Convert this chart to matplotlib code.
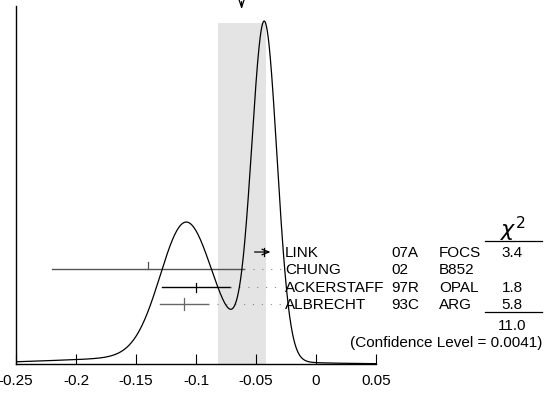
import numpy as np
import matplotlib
matplotlib.use('Agg')
import matplotlib.pyplot as plt

plt.rcParams['font.family'] = ['Liberation Sans', 'DejaVu Sans']

# measurements shown in the ideogram
names = ['LINK', 'CHUNG', 'ACKERSTAFF', 'ALBRECHT']
years = ['07A', '02', '97R', '93C']
experiments = ['FOCS', 'B852', 'OPAL', 'ARG']
values = [-0.043, -0.140, -0.100, -0.110]
errors = [0.0105, 0.080, 0.028, 0.020]
chi2 = ['3.4', '', '1.8', '5.8']
chi2_total = '11.0'
conf_level = '0.0041'

# weighted average (scaled error)
avg_value = -0.062
avg_error = 0.020

xticks = [-0.25, -0.2, -0.15, -0.1, -0.05, 0, 0.05]
xticklabels = ['-0.25', '-0.2', '-0.15', '-0.1', '-0.05', '0', '0.05']

# style per row
bar_colors = ['black', '#555555', 'black', '#666666']
tick_up = [0.012, 0.020, 0.012, 0.016]
tick_down = [0.012, 0.0, 0.015, 0.016]

fig = plt.figure(figsize=(5.5, 3.95), dpi=100)
ax = fig.add_axes([16 / 550, 31 / 395, 360 / 550, 358 / 395])

# ideogram: sum of gaussians, area proportional to 1/sigma
x = np.linspace(xticks[0], xticks[-1], 1500)
ideo = np.zeros_like(x)
for v, e in zip(values, errors):
    ideo += np.exp(-0.5 * ((x - v) / e) ** 2) / e ** 2
ymax = ideo.max() / 0.958

ax.axvspan(avg_value - avg_error, avg_value + avg_error, ymin=0, ymax=0.9525,
           color='#e4e4e4', lw=0, zorder=0)
ax.plot(x, ideo, color='black', lw=0.9, zorder=3)

ax.set_xlim(xticks[0], xticks[-1])
ax.set_ylim(0, ymax)

for s in ['top', 'right']:
    ax.spines[s].set_visible(False)
ax.spines['left'].set_linewidth(1.0)
ax.spines['bottom'].set_linewidth(1.0)
ax.set_yticks([])
ax.set_xticks(xticks)
ax.set_xticklabels(xticklabels)
ax.tick_params(axis='x', direction='in', length=7, width=0.8, pad=7, labelsize=11)

# arrow marking the average
ax.annotate('', xy=(avg_value, 0.983), xycoords=ax.get_xaxis_transform(),
            xytext=(avg_value, 1.02), textcoords=ax.get_xaxis_transform(),
            arrowprops=dict(arrowstyle='->,head_length=0.6,head_width=0.2',
                            color='black', lw=0.9), annotation_clip=False)

trans = ax.get_xaxis_transform()
row_y = [0.3128, 0.2654, 0.2151, 0.1676]
name_x = -0.0259
year_x = 0.0626
exp_x = 0.1027
chi_x = 0.1636

for i in range(len(names)):
    y = row_y[i]
    lo = values[i] - errors[i]
    hi = values[i] + errors[i]
    if i == 0:
        ax.annotate('', xy=(hi - 0.003, y), xycoords=trans,
                    xytext=(lo, y), textcoords=trans,
                    arrowprops=dict(arrowstyle='->,head_length=0.5,head_width=0.2',
                                    color=bar_colors[i], lw=0.9),
                    annotation_clip=False)
    else:
        ax.plot([lo, hi], [y, y], color=bar_colors[i], lw=1.0, transform=trans,
                clip_on=False, zorder=2)
        ax.plot([hi, -0.0275], [y, y], color='#888888', lw=0.8,
                ls=(0, (1, 7)), transform=trans, clip_on=False, zorder=2)
    ax.plot([values[i], values[i]], [y - tick_down[i], y + tick_up[i]],
            color=bar_colors[i], lw=0.9, transform=trans, clip_on=False, zorder=2)
    yb = y - 0.014
    ax.text(name_x, yb, names[i], transform=trans, fontsize=11, va='baseline')
    ax.text(year_x, yb, years[i], transform=trans, fontsize=11, va='baseline')
    ax.text(exp_x, yb, experiments[i], transform=trans, fontsize=11, va='baseline')
    ax.text(chi_x, yb, chi2[i], transform=trans, fontsize=11, va='baseline', ha='center')

ax.text(chi_x, 0.3547, r'$\chi^2$', transform=trans, fontsize=16,
        va='baseline', ha='center')
ax.plot([0.1411, 0.1886], [0.3436, 0.3436], color='black', lw=0.9,
        transform=trans, clip_on=False)
ax.plot([0.1411, 0.1886], [0.1453, 0.1453], color='black', lw=0.9,
        transform=trans, clip_on=False)
ax.text(chi_x, 0.095, chi2_total, transform=trans, fontsize=11,
        va='baseline', ha='center')
ax.text(0.1886, 0.0475, '(Confidence Level = ' + conf_level + ')', transform=trans,
        fontsize=11, va='baseline', ha='right')

fig.savefig('out.png', dpi=100)
